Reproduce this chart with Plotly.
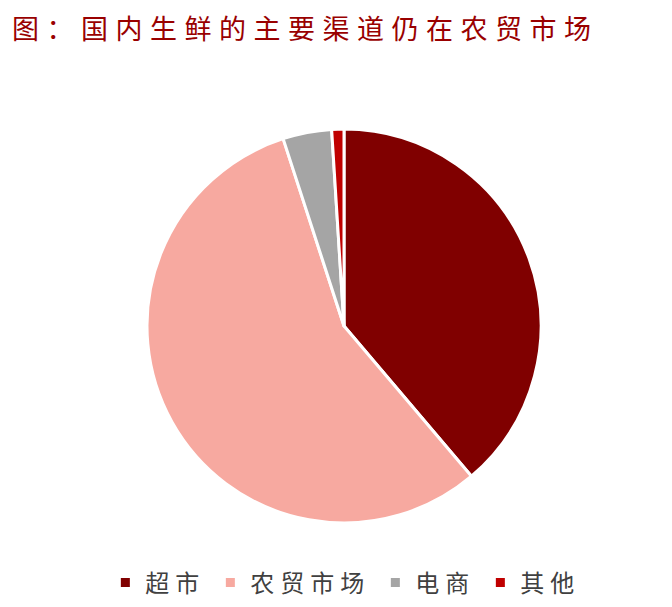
import plotly.graph_objects as go

labels = ["超市", "农贸市场", "电商", "其他"]
values = [38.8, 56.2, 4.0, 1.0]
colors = ["#800000", "#F7A9A0", "#A5A5A5", "#C00000"]
title_text = "图：国内生鲜的主要渠道仍在农贸市场"

W, H = 672, 607
cx, cy, r = 336, 318, 197

fig = go.Figure(go.Pie(
    labels=[f'<span style="letter-spacing:6px">{l}</span>' for l in labels],
    values=values, sort=False, direction="clockwise", rotation=0,
    marker=dict(colors=colors, line=dict(color="white", width=3)),
    textinfo="none", hoverinfo="label+value",
    domain=dict(x=[(cx - r) / W, (cx + r) / W], y=[(H - cy - r) / H, (H - cy + r) / H]),
))

fig.update_layout(
    width=W, height=H, margin=dict(l=0, r=0, t=0, b=0),
    paper_bgcolor="white", plot_bgcolor="white",
    font=dict(family="Noto Sans CJK SC"),
    title=dict(text=f'<span style="letter-spacing:7.5px">{title_text}</span>', x=4 / W, xanchor="left",
               y=1 - 22 / H, yanchor="middle",
               font=dict(size=27, color="#990000", family="Noto Sans CJK SC")),
    showlegend=True,
    legend=dict(orientation="h", x=0.502, xanchor="center", y=1 - 575 / H, yanchor="middle",
                font=dict(size=24, color="#404040"), itemwidth=30,
                traceorder="normal"),
)

fig.write_html("out.html")
